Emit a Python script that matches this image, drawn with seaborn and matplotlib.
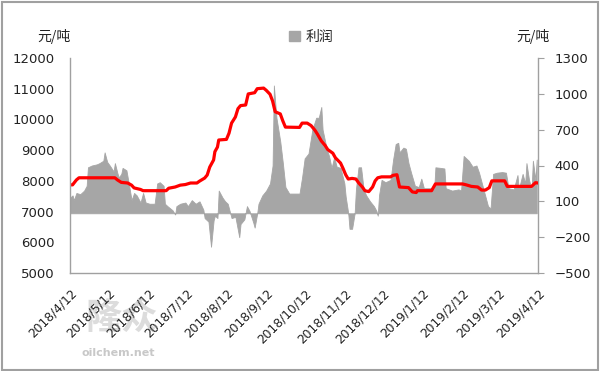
import numpy as np
import pandas as pd
import matplotlib
matplotlib.use("Agg")
import matplotlib.pyplot as plt
import matplotlib.patches as mpatches
import seaborn as sns

sns.set_theme(style="white")
plt.rcParams['font.family'] = ['DejaVu Sans', 'Noto Sans CJK SC']

# ---- data (days since 2018-04-12, values in yuan/ton) ----
start_date = "2018-04-12"
profit_days = [0, 2, 3, 5, 8, 11, 13, 14, 17, 21, 23, 26, 27, 29, 31, 34, 35, 37, 38, 40,
               41, 44, 46, 48, 50, 52, 55, 57, 59, 62, 66, 68, 70, 73, 74, 76, 80, 82, 83, 86,
               90, 92, 95, 98, 101, 104, 105, 108, 110, 112, 113, 115, 116, 119, 121, 123, 126, 129, 132, 133,
               136, 138, 140, 143, 144, 146, 147, 150, 153, 156, 158, 159, 161, 164, 166, 168, 171, 179, 181, 183,
               186, 189, 192, 194, 196, 197, 200, 202, 204, 206, 208, 211, 214, 215, 217, 218, 220, 222, 223, 225,
               227, 229, 231, 234, 237, 239, 240, 241, 243, 246, 250, 252, 254, 256, 257, 260, 262, 264, 266, 269,
               272, 274, 276, 281, 284, 285, 289, 292, 293, 298, 303, 305, 307, 309, 311, 314, 317, 319, 321, 324,
               326, 328, 330, 333, 337, 340, 342, 346, 349, 350, 353, 355, 356, 358, 360, 361, 363, 364]
profit = [130, 150, 110, 170, 160, 190, 230, 385, 400, 410, 420, 440, 510, 430, 400, 350, 420, 335, 300, 330,
          380, 360, 240, 110, 170, 150, 90, 170, 90, 80, 80, 250, 260, 230, 80, 60, 25, -10, 60, 80,
          90, 60, 110, 80, 100, 30, -40, -70, -280, -60, -20, -40, 190, 130, 100, 80, -40, -30, -200, -90,
          -50, 60, 20, -80, -120, 0, 80, 150, 190, 250, 400, 1070, 800, 600, 420, 220, 165, 165, 300, 460,
          500, 700, 800, 800, 890, 700, 550, 480, 380, 470, 390, 380, 250, 140, 0, -130, -130, 0, 200, 385,
          385, 200, 150, 100, 60, 20, -20, 150, 280, 260, 280, 450, 580, 590, 510, 550, 540, 420, 340, 230,
          220, 290, 210, 210, 200, 385, 380, 375, 210, 190, 200, 190, 480, 460, 440, 390, 400, 340, 260, 140,
          60, 40, 330, 340, 345, 340, 210, 200, 320, 200, 330, 250, 420, 280, 200, 440, 280, 450]

price_days = [0, 2, 5, 7, 35, 37, 40, 45, 48, 50, 55, 57, 75, 77, 82, 86, 90, 94, 99, 101,
              105, 107, 109, 112, 113, 115, 116, 122, 124, 126, 129, 131, 133, 137, 139, 144, 146, 151, 153, 156,
              158, 160, 164, 166, 168, 179, 181, 185, 188, 191, 193, 196, 199, 201, 205, 207, 211, 213, 215, 217,
              220, 223, 225, 228, 230, 233, 236, 238, 240, 243, 250, 252, 255, 257, 264, 267, 270, 271, 282, 285,
              306, 309, 313, 318, 321, 324, 327, 329, 339, 341, 360, 363, 365]
price = [7870, 7870, 8030, 8100, 8100, 8030, 7950, 7930, 7860, 7770, 7720, 7680, 7680, 7760, 7800, 7860, 7880, 7930, 7930, 7990,
         8090, 8190, 8450, 8680, 8950, 9100, 9330, 9350, 9550, 9880, 10080, 10350, 10450, 10470, 10830, 10870, 11000, 11020, 10950, 10820,
         10600, 10250, 10180, 9950, 9750, 9740, 9880, 9880, 9800, 9650, 9520, 9300, 9150, 9020, 8900, 8750, 8580, 8400, 8200, 8060,
         8080, 8060, 7940, 7800, 7680, 7650, 7800, 8000, 8100, 8130, 8130, 8180, 8200, 7800, 7780, 7640, 7620, 7680, 7680, 7900,
         7900, 7870, 7820, 7800, 7700, 7700, 7780, 8000, 8000, 7820, 7820, 7940, 7930]

tick_dates = ["2018-04-12", "2018-05-12", "2018-06-12", "2018-07-12", "2018-08-12", "2018-09-12",
              "2018-10-12", "2018-11-12", "2018-12-12", "2019-01-12", "2019-02-12", "2019-03-12", "2019-04-12"]
tick_labels = ["2018/4/12", "2018/5/12", "2018/6/12", "2018/7/12", "2018/8/12", "2018/9/12",
               "2018/10/12", "2018/11/12", "2018/12/12", "2019/1/12", "2019/2/12", "2019/3/12", "2019/4/12"]
left_ticks = [5000, 6000, 7000, 8000, 9000, 10000, 11000, 12000]
right_ticks = [-500, -200, 100, 400, 700, 1000, 1300]

base = pd.Timestamp(start_date)
df_profit = pd.DataFrame({"date": base + pd.to_timedelta(profit_days, unit="D"), "profit": profit})
df_price = pd.DataFrame({"date": base + pd.to_timedelta(price_days, unit="D"), "price": price})

fig = plt.figure(figsize=(6.0, 3.71), dpi=100)
ax = fig.add_axes([70/600, 1-273/371, 468/600, 215/371])
ax2 = ax.twinx()

# profit area on right axis, drawn below
ax2.fill_between(df_profit["date"], 0, df_profit["profit"], color="#A6A6A6", linewidth=0.6,
                 edgecolor="#A6A6A6", label="利润")
ax2.set_ylim(-500, 1300)
ax2.set_yticks(right_ticks)

# price line on left axis, drawn on top
sns.lineplot(data=df_price, x="date", y="price", ax=ax, color="#FF0000", linewidth=2.3, legend=False)
ax.set_ylim(5000, 12000)
ax.set_yticks(left_ticks)
ax.set_zorder(ax2.get_zorder() + 1)
ax.patch.set_visible(False)

xmin = pd.Timestamp(tick_dates[0]); xmax = pd.Timestamp(tick_dates[-1])
ax.set_xlim(xmin, xmax)
ax.set_xticks(pd.to_datetime(tick_dates))
ax.set_xticklabels(tick_labels, rotation=45, ha="right", va="top", rotation_mode="anchor",
                   fontsize=8.8, color="#222222")
ax.set_xlabel(""); ax.set_ylabel("")

ax.tick_params(axis="y", length=0, pad=11, labelsize=9.5, labelcolor="#222222")
ax.tick_params(axis="x", length=0, pad=10)
ax2.tick_params(axis="y", direction="out", length=4, width=0.8, color="#A0A0A0", pad=8,
                labelsize=9.5, labelcolor="#222222", right=True)

for a in (ax, ax2):
    a.grid(False)
    a.spines["top"].set_visible(False)
    for s in ("left", "right", "bottom"):
        a.spines[s].set_color("#A0A0A0")
        a.spines[s].set_linewidth(1.0)
ax.spines["right"].set_visible(False)
ax2.spines["left"].set_visible(False)
ax2.spines["bottom"].set_visible(False)

# unit labels
fig.text(71/600, 1-37/371, "元/吨", ha="right", va="center", fontsize=10,
         family=["Noto Sans CJK SC", "DejaVu Sans"], color="#222222")
fig.text(516/600, 1-37/371, "元/吨", ha="left", va="center", fontsize=10,
         family=["Noto Sans CJK SC", "DejaVu Sans"], color="#222222")

# legend
handles = [mpatches.Patch(color="#A6A6A6", label="利润")]
leg = fig.legend(handles=handles, loc="center", bbox_to_anchor=(311/600, 1-37/371), frameon=False,
                 prop={"family": "Noto Sans CJK SC", "size": 10}, handlelength=0.8, handleheight=0.8,
                 handletextpad=0.4, borderpad=0)

# watermark
fig.text(85/600, 1-318/371, "隆众", fontsize=26, color="#DCDCDC", weight="bold",
         family=["Noto Sans CJK SC", "DejaVu Sans"], ha="left", va="center", zorder=0)
fig.text(118/600, 1-353/371, "oilchem.net", fontsize=8, color="#C8C8C8", weight="bold",
         ha="center", va="center", zorder=0)

# outer border
fig.patches.append(mpatches.Rectangle((0.003, 0.004), 0.993, 0.99, transform=fig.transFigure,
                                      fill=False, edgecolor="#A0A0A0", linewidth=1.5))

fig.savefig("out.png", dpi=100)
